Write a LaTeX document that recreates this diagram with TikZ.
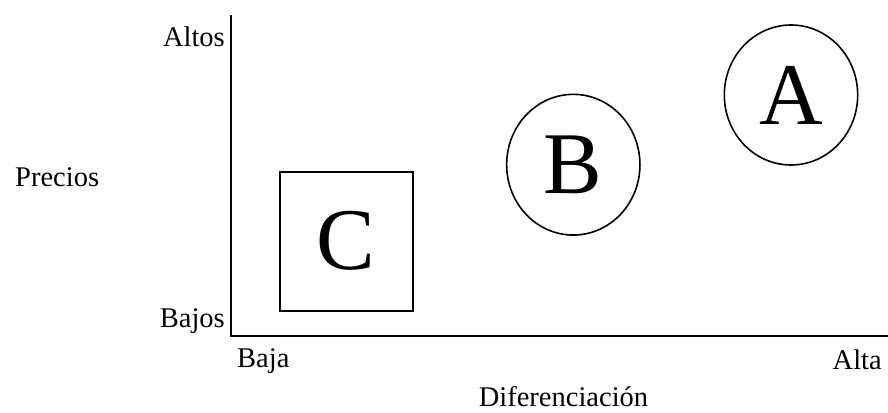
\documentclass[tikz,border=0pt]{standalone}
\usepackage{fontspec}
\setmainfont{Liberation Serif}
\usetikzlibrary{shapes.geometric}
\begin{document}
\begin{tikzpicture}[x=1pt,y=-1pt,
  lbl/.style={font=\fontsize{28.5}{30}\selectfont, inner sep=0pt},
  big/.style={font=\fontsize{88}{90}\selectfont, inner sep=0pt, draw, line width=1.6pt},
  oval/.style={big, ellipse},
  sq/.style={big, rectangle, line width=2pt},
  axis/.style={line width=2.4pt}]
\useasboundingbox (0,0) rectangle (888,412);
\coordinate (top) at (231,15);
\coordinate (orig) at (231,336);
\coordinate (right) at (888,336);
\draw[axis] (top) -- (orig) -- (right);
\node[lbl, anchor=base east] (altos) at (225,47) {Altos};
\node[lbl, anchor=base east] (bajos) at (225,327) {Bajos};
\node[lbl, anchor=base west] (precios) at (15,186) {Precios};
\node[lbl, anchor=base west] (baja) at (237,367) {Baja};
\node[lbl, anchor=base east] (alta) at (882,369) {Alta};
\node[lbl, anchor=base] (dif) at (563.5,406) {Diferenciación};
\node[oval, minimum width=133.4pt, minimum height=140pt] (A) at (791,95) {A};
\node[oval, minimum width=133.3pt, minimum height=140.7pt] (B) at (573.3,164.7) {B};
\node[sq, minimum width=132.7pt, minimum height=139pt] (C) at (346.3,241.2) {C};
\end{tikzpicture}
\end{document}
